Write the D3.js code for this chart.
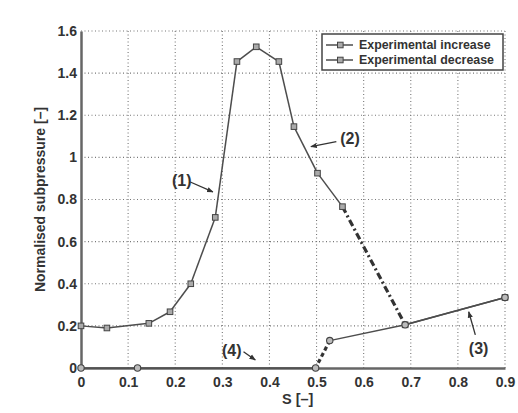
<!DOCTYPE html>
<html>
<head>
<meta charset="utf-8">
<script src="https://cdn.jsdelivr.net/npm/d3@7"></script>
<style>
  body { margin: 0; background: #fff; }
  text { font-family: "Liberation Sans", Arial, sans-serif; fill: #333; font-weight: bold; }
</style>
</head>
<body>
<svg id="chart" width="518" height="413"></svg>
<script>
// data
const incS = [0, 0.055, 0.144, 0.189, 0.233, 0.285, 0.331, 0.372, 0.42, 0.452, 0.502, 0.555, 0.688, 0.9];
const incP = [0.2, 0.19, 0.212, 0.267, 0.4, 0.715, 1.455, 1.525, 1.455, 1.146, 0.925, 0.766, 0.205, 0.335];
const decS = [0.9, 0.688, 0.528, 0.498, 0.12, 0];
const decP = [0.335, 0.205, 0.13, 0, 0, 0];
const incJump = [11];   // segment drawn dash-dot
const decJump = [2];    // segment drawn dashed
const xTicks = [0, 0.1, 0.2, 0.3, 0.4, 0.5, 0.6, 0.7, 0.8, 0.9];
const yTicks = [0, 0.2, 0.4, 0.6, 0.8, 1, 1.2, 1.4, 1.6];
const legendNames = ['Experimental increase', 'Experimental decrease'];
const notes = [
    { label: '(1)', tx: 0.214, ty: 0.89, ax: [0.232, 0.883], ay: [0.280, 0.836] },
    { label: '(2)', tx: 0.571, ty: 1.09, ax: [0.542, 1.075], ay: [0.488, 1.051] },
    { label: '(3)', tx: 0.844, ty: 0.094, ax: [0.837, 0.157], ay: [0.823, 0.267] },
    { label: '(4)', tx: 0.32, ty: 0.085, ax: [0.345, 0.077], ay: [0.37, 0.038] }
];

const svg = d3.select('#chart');
const m = { left: 81, right: 505, top: 31, bottom: 368 };
const grey = '#4d4d4d';

const x = d3.scaleLinear().domain([0, 0.9]).range([m.left, m.right]);
const y = d3.scaleLinear().domain([0, 1.6]).range([m.bottom, m.top]);

// dotted grid (also the top and right frame)
const grid = svg.append('g').attr('stroke', '#777').attr('stroke-width', 1.1).attr('stroke-dasharray', '1,2.5');
grid.selectAll('line.v').data(xTicks.slice(1)).join('line')
    .attr('x1', d => x(d)).attr('x2', d => x(d))
    .attr('y1', m.top).attr('y2', m.bottom);
grid.selectAll('line.h').data(yTicks.slice(1)).join('line')
    .attr('x1', m.left).attr('x2', m.right)
    .attr('y1', d => y(d)).attr('y2', d => y(d));

// axes
const xAxis = svg.append('g').attr('transform', `translate(0,${m.bottom})`)
    .call(d3.axisBottom(x).tickValues(xTicks).tickFormat(d3.format('')).tickSize(0).tickPadding(9));
const yAxis = svg.append('g').attr('transform', `translate(${m.left},0)`)
    .call(d3.axisLeft(y).tickValues(yTicks).tickFormat(d3.format('')).tickSize(0).tickPadding(4));
[xAxis, yAxis].forEach(a => {
    a.select('.domain').attr('stroke', '#666').attr('stroke-width', 2.5);
    a.selectAll('text').attr('font-size', 14).attr('fill', '#333')
        .attr('font-family', '"Liberation Sans", Arial, sans-serif').attr('font-weight', 'bold');
});

svg.append('text').attr('x', x(0.46)).attr('y', 404).attr('text-anchor', 'middle')
    .attr('font-size', 14.5).text('S [–]');
svg.append('text').attr('transform', `translate(45,${y(0.8)}) rotate(-90)`)
    .attr('text-anchor', 'middle').attr('font-size', 14).text('Normalised subpressure [–]');

// series
function drawSeries(S, P, jumps, jumpStyle) {
    const pts = S.map((s, i) => [s, P[i]]);
    const g = svg.append('g');
    for (let i = 0; i < pts.length - 1; i++) {
        const jump = jumps.includes(i);
        g.append('line')
            .attr('x1', x(pts[i][0])).attr('y1', y(pts[i][1]))
            .attr('x2', x(pts[i + 1][0])).attr('y2', y(pts[i + 1][1]))
            .attr('stroke', jump ? '#333' : grey)
            .attr('stroke-width', jump ? 3.2 : 1.5)
            .attr('stroke-dasharray', jump ? jumpStyle : null);
    }
    return g;
}
const gInc = drawSeries(incS, incP, incJump, '7,3,2,3');
const gDec = drawSeries(decS, decP, decJump, '4,3');

gInc.selectAll('rect').data(incS.map((s, i) => [s, incP[i]])).join('rect')
    .attr('x', d => x(d[0]) - 2.8).attr('y', d => y(d[1]) - 2.8)
    .attr('width', 5.6).attr('height', 5.6)
    .attr('fill', '#aaa').attr('stroke', '#444').attr('stroke-width', 1);
gDec.selectAll('circle').data(decS.map((s, i) => [s, decP[i]])).join('circle')
    .attr('cx', d => x(d[0])).attr('cy', d => y(d[1])).attr('r', 3.2)
    .attr('fill', '#bbb').attr('stroke', '#444').attr('stroke-width', 1.1);

// annotations
svg.append('defs').append('marker').attr('id', 'ah')
    .attr('viewBox', '0 0 10 10').attr('refX', 9).attr('refY', 5)
    .attr('markerWidth', 5).attr('markerHeight', 5).attr('orient', 'auto')
    .append('path').attr('d', 'M0,1 L10,5 L0,9 Z').attr('fill', '#333');
notes.forEach(n => {
    svg.append('text').attr('x', x(n.tx)).attr('y', y(n.ty)).attr('dy', '0.35em')
        .attr('text-anchor', 'middle').attr('font-size', 16).text(n.label);
    svg.append('line')
        .attr('x1', x(n.ax[0])).attr('y1', y(n.ax[1]))
        .attr('x2', x(n.ay[0])).attr('y2', y(n.ay[1]))
        .attr('stroke', '#333').attr('stroke-width', 1.3)
        .attr('marker-end', 'url(#ah)');
});

// legend
const lg = svg.append('g').attr('transform', 'translate(322,34)');
lg.append('rect').attr('width', 181).attr('height', 36)
    .attr('fill', '#fff').attr('stroke', '#444').attr('stroke-width', 1.5);
legendNames.forEach((name, i) => {
    const row = lg.append('g').attr('transform', `translate(0,${11 + i * 15})`);
    row.append('line').attr('x1', 4).attr('x2', 31).attr('stroke', grey).attr('stroke-width', 1.5);
    row.append('rect').attr('x', 15.5).attr('y', -2.8).attr('width', 5.6).attr('height', 5.6)
        .attr('fill', '#aaa').attr('stroke', '#444');
    row.append('text').attr('x', 37).attr('dy', '0.35em').attr('font-size', 12.4).text(name);
});
</script>
</body>
</html>
